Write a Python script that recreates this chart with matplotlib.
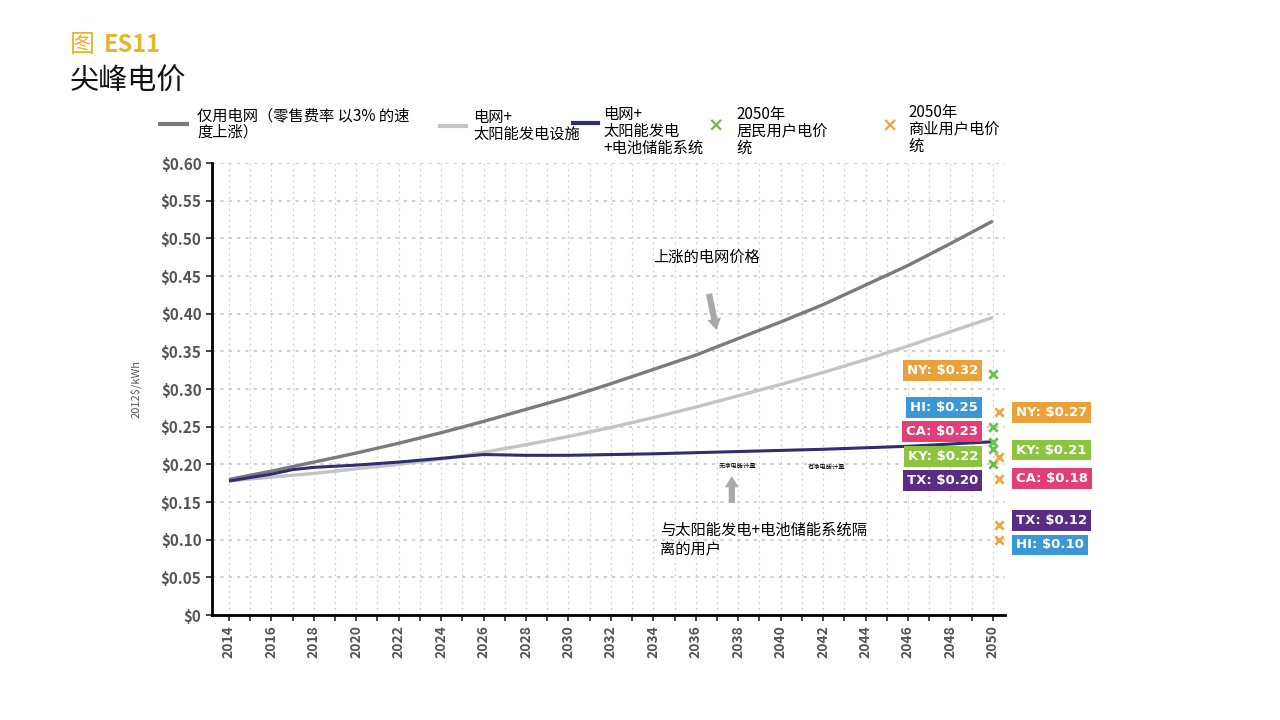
import matplotlib
matplotlib.use("Agg")
import matplotlib.pyplot as plt
from matplotlib.lines import Line2D

plt.rcParams["font.family"] = ["Noto Sans CJK SC", "DejaVu Sans"]

years = list(range(2014, 2051, 2))
grid_only = [0.180, 0.191, 0.203, 0.215, 0.228, 0.242, 0.257, 0.273, 0.289, 0.307,
             0.326, 0.345, 0.367, 0.389, 0.412, 0.438, 0.464, 0.493, 0.523]
grid_solar = [0.178, 0.183, 0.188, 0.194, 0.200, 0.207, 0.216, 0.226, 0.237, 0.249,
              0.262, 0.276, 0.291, 0.306, 0.322, 0.339, 0.357, 0.376, 0.395]
battery_years = [2014, 2016, 2017, 2018, 2020, 2022, 2024, 2026, 2028, 2030, 2034, 2038, 2042, 2046, 2050]
grid_solar_battery = [0.178, 0.187, 0.193, 0.196, 0.199, 0.203, 0.208, 0.213, 0.212, 0.212,
                      0.214, 0.217, 0.220, 0.224, 0.230]

states = ["NY", "HI", "CA", "KY", "TX"]
state_colors = {"NY": "#e9a23b", "HI": "#3b98d6", "CA": "#e23e78", "KY": "#8cc43f", "TX": "#5a2d82"}
residential = {"NY": 0.32, "HI": 0.25, "CA": 0.23, "KY": 0.22, "TX": 0.20}
commercial = {"NY": 0.27, "KY": 0.21, "CA": 0.18, "TX": 0.12, "HI": 0.10}
res_label_y = {"NY": 0.325, "HI": 0.276, "CA": 0.243, "KY": 0.210, "TX": 0.178}
com_label_y = {"NY": 0.269, "KY": 0.219, "CA": 0.181, "TX": 0.126, "HI": 0.093}

fig = plt.figure(figsize=(12.8, 7.2), dpi=100)
ax = fig.add_axes([0.1656, 0.1458, 0.6195, 0.6278])

ax.plot(years, grid_only, color="#7b7b7b", lw=2.4, solid_capstyle="butt")
ax.plot(years, grid_solar, color="#c4c4c4", lw=2.4, solid_capstyle="butt")
ax.plot(battery_years, grid_solar_battery, color="#2f2e6e", lw=2.2, solid_capstyle="butt")

ax.scatter([2050.0] * 5, [residential[s] for s in states], marker="x", color="#6cc04a",
           s=36, lw=2, zorder=5, clip_on=False)
ax.scatter([2050.3] * 5, [commercial[s] for s in commercial], marker="x", color="#f0a640",
           s=36, lw=2, zorder=5, clip_on=False)

for s in states:
    ax.text(2049.3, res_label_y[s], f"{s}: ${residential[s]:.2f}", ha="right", va="center",
            fontsize=9.5, fontweight="bold", color="white", family="DejaVu Sans",
            bbox=dict(boxstyle="square,pad=0.3", fc=state_colors[s], ec="none"), clip_on=False)
for s in commercial:
    ax.text(2051.1, com_label_y[s], f"{s}: ${commercial[s]:.2f}", ha="left", va="center",
            fontsize=9.5, fontweight="bold", color="white", family="DejaVu Sans",
            bbox=dict(boxstyle="square,pad=0.3", fc=state_colors[s], ec="none"), clip_on=False)

ax.set_xlim(2013.2, 2050.57)
ax.set_ylim(0, 0.60)
ax.set_xticks(range(2014, 2051))
ax.set_xticklabels([str(y) if y % 2 == 0 else "" for y in range(2014, 2051)],
                   rotation=90, fontsize=10, fontweight="bold", color="#555555")
ax.set_yticks([i * 0.05 for i in range(13)])
ax.set_yticklabels(["$0"] + [f"${i * 0.05:.2f}" for i in range(1, 13)],
                   fontsize=11, fontweight="bold", color="#555555")
ax.tick_params(axis="both", direction="out", length=4, width=1.2, color="#222222")

for y in range(2014, 2051):
    ax.axvline(y, color="#cfcfcf", lw=0.9, ls=(0, (1.5, 3)), zorder=0)
for i in range(1, 13):
    ax.axhline(i * 0.05, color="#c8c8c8", lw=1.2, ls=(0, (2, 3)), zorder=0)

for side in ["top", "right"]:
    ax.spines[side].set_visible(False)
ax.spines["left"].set_linewidth(2)
ax.spines["bottom"].set_linewidth(2)

ax.set_ylabel("2012$/kWh", fontsize=8, color="#555555", labelpad=14)

# annotations
ax.text(2034.0, 0.475, "上涨的电网价格", fontsize=11, ha="left", va="center")
ax.annotate("", xy=(2037.0, 0.375), xytext=(2036.6, 0.43),
            arrowprops=dict(arrowstyle="simple,head_width=1.0,head_length=0.8,tail_width=0.45",
                            color="#a9a9a9", lw=0))
ax.annotate("", xy=(2037.7, 0.188), xytext=(2037.7, 0.145),
            arrowprops=dict(arrowstyle="simple,head_width=1.0,head_length=0.8,tail_width=0.45",
                            color="#a9a9a9", lw=0))
ax.text(2037.1, 0.198, "无净电能计量", fontsize=4.5, ha="left", va="center")
ax.text(2041.3, 0.196, "有净电能计量", fontsize=4.5, ha="left", va="center")
ax.text(2034.3, 0.100, "与太阳能发电+电池储能系统隔\n离的用户", fontsize=11, ha="left", va="center",
        linespacing=1.2)

# titles
fig.text(70 / 1280, 1 - 45 / 720, "图", fontsize=18, color="#e8b52a", va="center")
fig.text(104 / 1280, 1 - 45 / 720, "ES11", fontsize=17, color="#e8b52a", fontweight="bold",
         va="center")
fig.text(70 / 1280, 1 - 82 / 720, "尖峰电价", fontsize=21, color="#111111", va="center")

# legend
def leg_line(x0, x1, y, color, lw):
    fig.add_artist(Line2D([x0 / 1280, x1 / 1280], [1 - y / 720, 1 - y / 720],
                          color=color, lw=lw, transform=fig.transFigure))

leg_line(160, 187, 124, "#7b7b7b", 3)
fig.text(197 / 1280, 1 - 124 / 720, "仅用电网（零售费率 以3% 的速\n度上涨）", fontsize=11,
         va="center", linespacing=1.0)
leg_line(440, 466, 126, "#c4c4c4", 3)
fig.text(473 / 1280, 1 - 126 / 720, "电网+\n太阳能发电设施", fontsize=11, va="center",
         linespacing=1.0)
leg_line(573, 598, 123, "#2f2e6e", 3)
fig.text(603 / 1280, 1 - 131 / 720, "电网+\n太阳能发电\n+电池储能系统", fontsize=11, va="center",
         linespacing=1.0)
fig.text(716 / 1280, 1 - 126 / 720, "×", fontsize=14, color="#6cc04a", fontweight="bold",
         ha="center", va="center", family="DejaVu Sans")
fig.text(736 / 1280, 1 - 131 / 720, "2050年\n居民用户电价\n统", fontsize=11, va="center",
         linespacing=1.0)
fig.text(890 / 1280, 1 - 126 / 720, "×", fontsize=14, color="#f0a640", fontweight="bold",
         ha="center", va="center", family="DejaVu Sans")
fig.text(908 / 1280, 1 - 129 / 720, "2050年\n商业用户电价\n统", fontsize=11, va="center",
         linespacing=1.0)

fig.savefig("out.png", dpi=100, facecolor="white")
